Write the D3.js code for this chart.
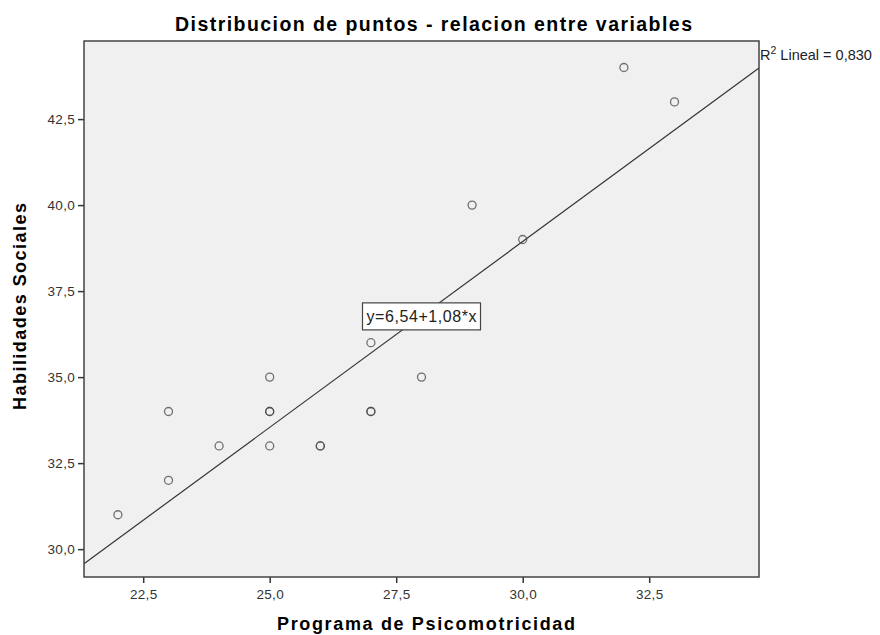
<!DOCTYPE html>
<html>
<head>
<meta charset="utf-8">
<script src="https://cdn.jsdelivr.net/npm/d3@7"></script>
<style>
	body { margin: 0; background: #fff; }
	svg { font-family: "Liberation Sans", Arial, sans-serif; }
</style>
</head>
<body>
<svg id="chart" width="880" height="635"></svg>
<script>
// data
let programa =    [22, 23, 23, 24, 25, 25, 25, 25, 26, 26, 27, 27, 27, 28, 29, 30, 32, 33];
let habilidades = [31, 32, 34, 33, 33, 34, 34, 35, 33, 33, 34, 34, 36, 35, 40, 39, 44, 43];
let xTicks = [22.5, 25.0, 27.5, 30.0, 32.5];
let yTicks = [30.0, 32.5, 35.0, 37.5, 40.0, 42.5];
let fitCoef = [6.54, 1.08];   // intercept, slope
let rSquared = "0,830";
let labelAtX = 28;

let chart = {
	margin: { left: 84, right: 121, top: 41, bottom: 58 },
	width: 880,
	height: 635,

	fmt: function(v) { return d3.format(".1f")(v).replace(".", ","); },

	draw: function() {
		let m = chart.margin;
		let w = chart.width - m.left - m.right;
		let h = chart.height - m.top - m.bottom;
		let svg = d3.select("#chart");

		let x = d3.scaleLinear().domain([21.33, 34.67]).range([0, w]);
		let y = d3.scaleLinear().domain([29.19, 44.77]).range([h, 0]);

		let g = svg.append("g").attr("transform", "translate(" + m.left + "," + m.top + ")");

		g.append("rect")
		.attr("width", w).attr("height", h)
		.attr("fill", "#f0f0f0");

		// axes
		let xa = g.append("g").attr("transform", "translate(0," + h + ")")
		.call(d3.axisBottom(x).tickValues(xTicks).tickFormat(chart.fmt).tickSize(6).tickPadding(6));
		let ya = g.append("g")
		.call(d3.axisLeft(y).tickValues(yTicks).tickFormat(chart.fmt).tickSize(6).tickPadding(3));
		[xa, ya].forEach(function(a) {
			a.select(".domain").remove();
			a.selectAll("line").attr("stroke", "#333").attr("stroke-width", 1.5);
			a.selectAll("text").attr("fill", "#333")
			.style("font-size", "13.5px").style("letter-spacing", "0.3px");
		});

		// fit line, clipped to plot
		svg.append("clipPath").attr("id", "clip")
		.append("rect").attr("width", w).attr("height", h);
		let x0 = x.domain()[0], x1 = x.domain()[1];
		g.append("line")
		.attr("clip-path", "url(#clip)")
		.attr("x1", x(x0)).attr("y1", y(fitCoef[0] + fitCoef[1] * x0))
		.attr("x2", x(x1)).attr("y2", y(fitCoef[0] + fitCoef[1] * x1))
		.attr("stroke", "#333").attr("stroke-width", 1.2);

		// points
		g.selectAll("circle.pt").data(programa).enter().append("circle")
		.attr("class", "pt")
		.attr("cx", function(d, i) { return x(d); })
		.attr("cy", function(d, i) { return y(habilidades[i]); })
		.attr("r", 4)
		.attr("fill", "none")
		.attr("stroke", "#444")
		.attr("stroke-width", 1.3)
		.attr("stroke-opacity", 0.75);

		// frame
		g.append("rect")
		.attr("width", w).attr("height", h)
		.attr("fill", "none")
		.attr("stroke", "#444").attr("stroke-width", 1.5);

		// equation label
		let lx = x(labelAtX), ly = y(fitCoef[0] + fitCoef[1] * labelAtX);
		let eq = g.append("text")
		.attr("x", lx).attr("y", ly + 6)
		.attr("text-anchor", "middle")
		.attr("textLength", 110).attr("lengthAdjust", "spacing")
		.style("font-size", "16px")
		.attr("fill", "#222")
		.text("y=" + String(fitCoef[0]).replace(".", ",") + "+" + String(fitCoef[1]).replace(".", ",") + "*x");
		g.append("rect")
		.attr("x", lx - 59).attr("y", ly - 13)
		.attr("width", 118).attr("height", 27)
		.attr("fill", "#fff").attr("stroke", "#444").attr("stroke-width", 1.2);
		eq.raise();

		// R2
		let r2 = svg.append("text")
		.attr("x", m.left + w + 1).attr("y", 60)
		.style("font-size", "14.5px").attr("fill", "#222");
		r2.append("tspan").text("R");
		r2.append("tspan").attr("dy", -6).style("font-size", "10.5px").text("2");
		r2.append("tspan").attr("dy", 6).text(" Lineal = " + rSquared);

		// titles
		svg.append("text")
		.attr("x", 433.5).attr("y", 31)
		.attr("text-anchor", "middle")
		.attr("textLength", 517).attr("lengthAdjust", "spacing")
		.style("font-size", "19.5px").style("font-weight", "bold")
		.text("Distribucion de puntos - relacion entre variables");

		svg.append("text")
		.attr("x", 426).attr("y", 630)
		.attr("text-anchor", "middle")
		.attr("textLength", 298).attr("lengthAdjust", "spacing")
		.style("font-size", "18px").style("font-weight", "bold")
		.text("Programa de Psicomotricidad");

		svg.append("text")
		.attr("transform", "translate(26,306.5) rotate(-90)")
		.attr("text-anchor", "middle")
		.attr("textLength", 207).attr("lengthAdjust", "spacing")
		.style("font-size", "18px").style("font-weight", "bold")
		.text("Habilidades Sociales");
	}
}

chart.draw();
</script>
</body>
</html>
